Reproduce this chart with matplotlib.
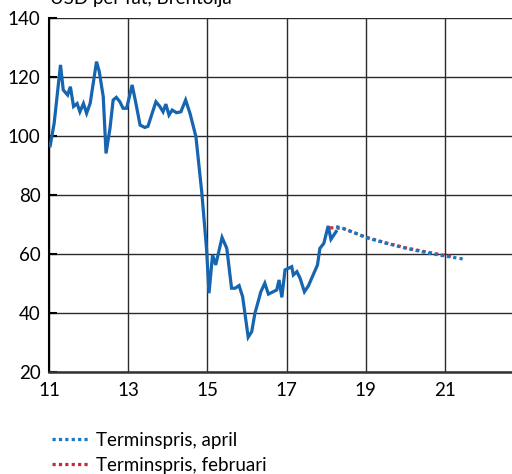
import matplotlib
matplotlib.use("Agg")
import matplotlib.pyplot as plt

plt.rcParams['font.family'] = ['Lato', 'DejaVu Sans']

# Brent crude, USD per barrel (decimal years, 11 = 2011)
hist_t = [11.03, 11.13, 11.29, 11.36, 11.47, 11.54, 11.62, 11.71, 11.78, 11.87,
          11.95, 12.04, 12.20, 12.27, 12.37, 12.44, 12.54, 12.62, 12.70, 12.79,
          12.87, 12.96, 13.10, 13.21, 13.30, 13.42, 13.50, 13.59, 13.70, 13.80,
          13.88, 13.95, 14.03, 14.11, 14.22, 14.33, 14.45, 14.56, 14.71, 14.86,
          14.98, 15.04, 15.13, 15.21, 15.37, 15.49, 15.61, 15.70, 15.80, 15.89,
          16.03, 16.12, 16.20, 16.35, 16.45, 16.54, 16.66, 16.75, 16.81, 16.88,
          16.96, 17.13, 17.17, 17.26, 17.34, 17.45, 17.55, 17.67, 17.78, 17.84,
          17.94, 18.05, 18.12, 18.25]
hist_v = [96.7, 104.3, 124.1, 115.6, 113.9, 116.7, 110.0, 111.0, 108.2, 111.0,
          107.7, 111.1, 125.2, 121.8, 113.3, 94.1, 102.6, 112.2, 113.1, 111.6,
          109.4, 109.4, 117.3, 110.0, 103.7, 102.9, 103.3, 107.1, 111.6, 110.0,
          108.2, 110.8, 107.1, 108.8, 107.9, 108.2, 112.2, 107.7, 99.8, 80.6,
          61.4, 46.7, 59.7, 56.3, 65.6, 61.9, 48.4, 48.4, 49.3, 45.5,
          31.8, 33.7, 39.9, 47.2, 50.1, 46.4, 47.2, 47.8, 51.2, 45.3,
          54.6, 55.7, 52.9, 54.0, 51.8, 47.2, 49.2, 52.9, 56.3, 61.9,
          63.6, 69.5, 65.0, 67.6]

# Forward prices, April
apr_t = [18.25, 18.42, 18.75, 19.02, 19.53, 20.03, 20.62, 21.00, 21.46]
apr_v = [69.3, 68.7, 67.0, 65.5, 63.6, 61.9, 60.2, 59.3, 58.3]

# Forward prices, February
feb_t = [18.10, 18.42, 19.00, 19.50, 20.00, 20.60, 21.17]
feb_v = [68.9, 68.7, 65.7, 63.8, 62.1, 60.5, 59.1]

x_ticks = [11, 13, 15, 17, 19, 21]
y_ticks = [20, 40, 60, 80, 100, 120, 140]

FS = 13.5

fig = plt.figure(figsize=(5.12, 4.74), dpi=100)
ax = fig.add_axes([49 / 512, 1 - 372 / 474, 1 - 49 / 512, (372 - 18) / 474])

ax.plot(hist_t, hist_v, color='#1565b0', lw=2.3, solid_joinstyle='miter', zorder=3)
red, = ax.plot(feb_t, feb_v, color='#c8283c', lw=2.3, ls=(0, (1, 1)), zorder=3,
               label='Terminspris, februari')
blue, = ax.plot(apr_t, apr_v, color='#1a78c2', lw=2.3, ls=(0, (1, 1)), zorder=4,
                label='Terminspris, april')

ax.set_xlim(11, 11 + 463 / 39.6)
ax.set_ylim(20, 140)
ax.set_xticks(x_ticks)
ax.set_yticks(y_ticks)
ax.tick_params(axis='both', labelsize=FS, colors='black')
ax.tick_params(axis='y', direction='in', length=6, width=1.5, pad=6)
ax.tick_params(axis='x', length=0, pad=7)
ax.grid(True, color='#2a2a2a', lw=1)
ax.set_axisbelow(True)
for s in ['top', 'right']:
    ax.spines[s].set_visible(False)
ax.spines['left'].set_linewidth(1.5)
ax.spines['bottom'].set_linewidth(1.8)
ax.spines['bottom'].set_color('#333333')

fig.text(50 / 512, 1 - 4 / 474, 'USD per fat, Brentolja', fontsize=FS,
         ha='left', va='baseline')

fig.legend(handles=[blue, red], loc='upper left',
           bbox_to_anchor=(52 / 512, 1 - 432 / 474), frameon=False,
           fontsize=FS, handlelength=1.9, handletextpad=0.45,
           labelspacing=0.42, borderaxespad=0, borderpad=0)

fig.savefig('out.png', dpi=100)
